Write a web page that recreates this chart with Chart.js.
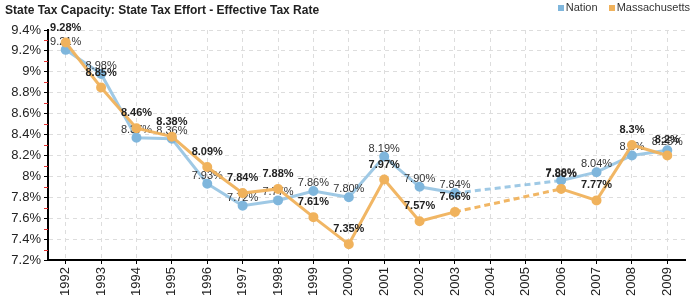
<!DOCTYPE html>
<html>
<head>
<meta charset="utf-8">
<script src="https://cdn.jsdelivr.net/npm/chart.js@4"></script>
<style>
  body { margin: 0; background: #fff; font-family: Arial, "Liberation Sans", sans-serif; }
  #wrap { position: relative; width: 700px; height: 300px; }
  #title { position: absolute; left: 5px; top: 3px; font-size: 12px; font-weight: bold; color: #222; }
  #legend { position: absolute; right: 10px; top: 1px; font-size: 11px; color: #333; }
  #legend span.sw { display: inline-block; width: 6px; height: 6px; margin-right: 2px; }
  #legend span.it { margin-left: 8px; }
</style>
</head>
<body>
<div id="wrap">
  <canvas id="chart" width="700" height="300"></canvas>
  <div id="title">State Tax Capacity: State Tax Effort - Effective Tax Rate</div>
  <div id="legend">
    <span class="it"><span class="sw" style="background:#7fb6dc"></span>Nation</span>
    <span class="it"><span class="sw" style="background:#f0b25c"></span>Massachusetts</span>
  </div>
</div>
<script>
// Data
const years = ['1992', '1993', '1994', '1995', '1996', '1997', '1998', '1999', '2000',
               '2001', '2002', '2003', '2004', '2005', '2006', '2007', '2008', '2009'];
const nation = [9.21, 8.98, 8.37, 8.36, 7.93, 7.72, 7.77, 7.86, 7.80,
                8.19, 7.90, 7.84, null, null, 7.96, 8.04, 8.2, 8.25];
const massachusetts = [9.28, 8.85, 8.46, 8.38, 8.09, 7.84, 7.88, 7.61, 7.35,
                       7.97, 7.57, 7.66, null, null, 7.88, 7.77, 8.3, 8.2];
const nationLabels = ['9.21%', '8.98%', '8.37%', '8.36%', '7.93%', '7.72%', '7.77%', '7.86%', '7.80%',
                      '8.19%', '7.90%', '7.84%', '', '', '7.96%', '8.04%', '8.2%', '8.25%'];
const massLabels = ['9.28%', '8.85%', '8.46%', '8.38%', '8.09%', '7.84%', '7.88%', '7.61%', '7.35%',
                    '7.97%', '7.57%', '7.66%', '', '', '7.88%', '7.77%', '8.3%', '8.2%'];

const FONT = 'Arial, "Liberation Sans", sans-serif';

// dashed line where the segment jumps over missing years
const gapDash = ctx => (ctx.p0.skip || ctx.p1.skip ? [6, 4] : undefined);

// value labels above each point, drawn right after its dataset
const pointLabels = {
    id: 'pointLabels',
    afterDatasetDraw(chart, args) {
        const ds = chart.data.datasets[args.index];
        const ctx = chart.ctx;
        ctx.save();
        ctx.font = (ds.labelBold ? 'bold ' : '') + '11px ' + FONT;
        ctx.fillStyle = ds.labelBold ? '#222' : '#333';
        ctx.textAlign = 'center';
        ctx.textBaseline = 'middle';
        args.meta.data.forEach((pt, i) => {
            if (ds.data[i] == null) return;
            ctx.fillText(ds.labels[i], pt.x, pt.y - ds.labelOffset);
        });
        ctx.restore();
    }
};

// small red marks half way between the y ticks
const minorTicks = {
    id: 'minorTicks',
    afterDraw(chart) {
        const y = chart.scales.y;
        const ctx = chart.ctx;
        ctx.save();
        ctx.strokeStyle = '#e03030';
        ctx.lineWidth = 1;
        for (let v = 7.3; v < 9.4; v += 0.2) {
            const py = Math.round(y.getPixelForValue(v)) + 0.5;
            ctx.beginPath();
            ctx.moveTo(y.right - 4, py);
            ctx.lineTo(y.right, py);
            ctx.stroke();
        }
        ctx.restore();
    }
};

new Chart(document.getElementById('chart'), {
    type: 'line',
    data: {
        labels: years,
        datasets: [
            {
                label: 'Nation',
                data: nation,
                labels: nationLabels,
                labelOffset: 8,
                labelBold: false,
                borderColor: 'rgba(135,188,222,0.8)',
                backgroundColor: '#7fb6dc',
                pointBackgroundColor: '#7fb6dc',
                pointBorderColor: '#7fb6dc',
                borderWidth: 3,
                pointRadius: 3.5,
                spanGaps: true,
                tension: 0,
                order: 1,
                segment: { borderDash: gapDash }
            },
            {
                label: 'Massachusetts',
                data: massachusetts,
                labels: massLabels,
                labelOffset: 15,
                labelBold: true,
                borderColor: 'rgba(240,178,92,0.95)',
                backgroundColor: '#f0b25c',
                pointBackgroundColor: '#f0b25c',
                pointBorderColor: '#f0b25c',
                borderWidth: 3,
                pointRadius: 3.5,
                spanGaps: true,
                tension: 0,
                order: 0,
                segment: { borderDash: gapDash }
            }
        ]
    },
    options: {
        responsive: false,
        animation: false,
        layout: { padding: { top: 30, right: 15, left: 0, bottom: 0 } },
        plugins: {
            legend: { display: false },
            title: { display: false },
            tooltip: { enabled: false }
        },
        scales: {
            x: {
                offset: true,
                grid: { color: '#dddddd', offset: false, tickColor: '#000', tickLength: 4 },
                border: { color: '#000', width: 2, dash: [4, 4] },
                ticks: {
                    minRotation: 90, maxRotation: 90, autoSkip: false,
                    color: '#222', font: { family: FONT, size: 13 }, padding: 3
                },
                afterFit: s => { s.height = 40; }
            },
            y: {
                min: 7.2,
                max: 9.4,
                grid: { color: '#dddddd', tickColor: '#000', tickLength: 4 },
                border: { color: '#000', width: 2, dash: [4, 4] },
                ticks: {
                    stepSize: 0.2,
                    color: '#222',
                    font: { family: FONT, size: 13 },
                    padding: 3,
                    callback: v => Number(v.toFixed(1)) + '%'
                },
                afterFit: s => { s.width = 48; }
            }
        }
    },
    plugins: [pointLabels, minorTicks]
});
</script>
</body>
</html>
